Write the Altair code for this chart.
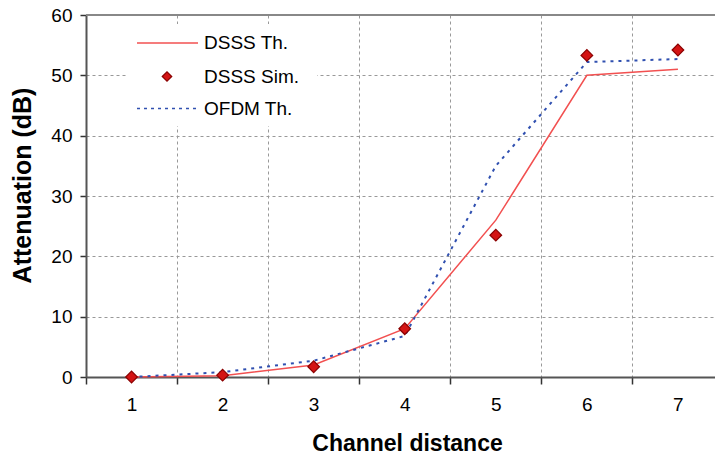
import altair as alt
import pandas as pd

# ---- data ----
CHANNELS = [1, 2, 3, 4, 5, 6, 7]
DSSS_TH = [0.0, 0.2, 2.0, 8.0, 26.0, 50.0, 51.0]
DSSS_SIM = [0.0, 0.3, 1.7, 8.0, 23.5, 53.3, 54.2]
OFDM_TH = [0.0, 0.8, 2.7, 6.8, 35.0, 52.2, 52.7]
SERIES = ["DSSS Th.", "DSSS Sim.", "OFDM Th."]
Y_TICKS = [0, 10, 20, 30, 40, 50, 60]
X_BOUNDS = [c - 0.5 for c in CHANNELS]

FONT = "Liberation Sans"
W, H = 629, 362

df_th = pd.DataFrame({"x": CHANNELS, "y": DSSS_TH})
df_sim = pd.DataFrame({"x": CHANNELS, "y": DSSS_SIM})
df_of = pd.DataFrame({"x": CHANNELS, "y": OFDM_TH})

xscale = alt.Scale(domain=[0.5, 7.407], nice=False, zero=False)
yscale = alt.Scale(domain=[0, 60], nice=False)

x_axis = alt.Axis(
    values=X_BOUNDS, labelExpr="'' + (datum.value + 0.5)", labelOffset=45.5,
    labelFlush=False, labelOverlap=False,
    grid=True, gridDash=[3, 3], gridColor="#999999", gridWidth=1,
    tickSize=7, tickColor="#333333", tickWidth=1.5,
    domainColor="#555555", domainWidth=2,
    labelFont=FONT, labelFontSize=19, labelColor="#000000", labelPadding=11,
    title="Channel distance", titleFont=FONT, titleFontSize=23, titleFontWeight="bold",
    titleColor="#000000", titleX=321, titleY=66, titleBaseline="middle", titleAnchor="start",
    titleAlign="center",
)
y_axis = alt.Axis(
    values=Y_TICKS, grid=True, gridDash=[3, 3], gridColor="#999999", gridWidth=1,
    tickSize=6, tickColor="#333333", tickWidth=1.5,
    domainColor="#555555", domainWidth=2,
    labelFont=FONT, labelFontSize=19, labelColor="#000000", labelPadding=8,
    title="Attenuation (dB)", titleFont=FONT, titleFontSize=25, titleFontWeight="bold",
    titleColor="#000000", titleX=-64, titleY=170, titleAngle=-90, titleBaseline="middle",
    titleAlign="center",
)

base_x = alt.X("x:Q", scale=xscale, axis=x_axis)
base_y = alt.Y("y:Q", scale=yscale, axis=y_axis)

RED = "#f25050"
BLUE = "#3050b0"

line_th = alt.Chart(df_th).mark_line(color=RED, strokeWidth=1.5).encode(x=base_x, y=base_y)
line_of = alt.Chart(df_of).mark_line(color=BLUE, strokeWidth=2, strokeDash=[3, 5]).encode(
    x=alt.X("x:Q", scale=xscale), y=alt.Y("y:Q", scale=yscale))
pts = alt.Chart(df_sim).mark_point(
    shape="diamond", filled=True, fill="#d41414", stroke="#8b0000", strokeWidth=1.2,
    size=135, opacity=1,
).encode(x=alt.X("x:Q", scale=xscale), y=alt.Y("y:Q", scale=yscale))

top_border = alt.Chart().mark_rule(color="#888888", strokeWidth=2).encode(
    x=alt.value(0), x2=alt.value(W), y=alt.value(0))

# ---- legend (drawn inside the plot, like the original) ----
leg_bg = alt.Chart().mark_rect(fill="white", stroke=None).encode(
    x=alt.value(41), x2=alt.value(231), y=alt.value(9), y2=alt.value(111))
leg_l1 = alt.Chart().mark_rule(color=RED, strokeWidth=1.5).encode(
    x=alt.value(51), x2=alt.value(112), y=alt.value(28))
leg_p = alt.Chart().mark_point(
    shape="diamond", filled=True, fill="#d41414", stroke="#8b0000", strokeWidth=1.2,
    size=90, opacity=1).encode(x=alt.value(81), y=alt.value(61.5))
leg_l3 = alt.Chart().mark_rule(color=BLUE, strokeWidth=1.5, strokeDash=[3, 4]).encode(
    x=alt.value(51), x2=alt.value(112), y=alt.value(93.5))
leg_texts = []
for label, yy in zip(SERIES, [28, 61.5, 93.5]):
    leg_texts.append(
        alt.Chart().mark_text(font=FONT, fontSize=19, align="left", baseline="middle",
                              color="#000000").encode(
            x=alt.value(118), y=alt.value(yy), text=alt.value(label)))

chart = alt.layer(
    line_th, line_of, pts, top_border, leg_bg, leg_l1, leg_p, leg_l3, *leg_texts
).properties(
    width=W, height=H,
    autosize=alt.AutoSizeParams(type="none"),
    padding={"left": 86, "top": 15, "right": 0, "bottom": 83},
).configure_view(stroke=None).configure(background="white")

chart.save("out.html", embed_options={"renderer": "svg", "actions": False})
